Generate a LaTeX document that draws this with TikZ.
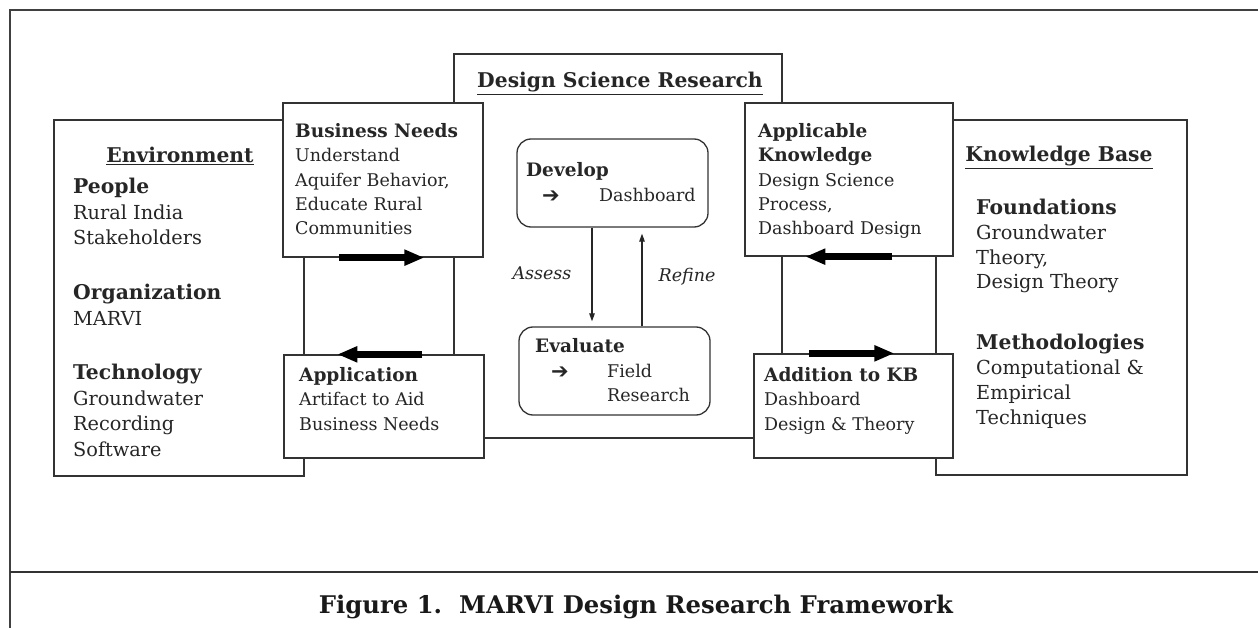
\documentclass[tikz,border=0pt]{standalone}
\usepackage{fontspec}
\setmainfont{DejaVu Serif}
\newfontfamily\symfont{DejaVu Sans}
\usetikzlibrary{arrows.meta,calc}

% headings inside the boxes and the two side areas
\newcommand{\boxhead}[1]{{\bfseries\fontsize{18.5}{22}\selectfont #1}}
\newcommand{\sidehead}[1]{{\bfseries\fontsize{20.3}{24}\selectfont #1}}
\newcommand{\flowarrow}{{\symfont\bfseries\fontsize{21}{24}\selectfont ➔}}

\begin{document}
\begin{tikzpicture}[x=1pt,y=-1pt,
  box/.style={draw=black!80, line width=1.3pt, fill=white, inner sep=0pt},
  roundbox/.style={box, rounded corners=14pt},
  txt/.style={align=left, inner sep=0pt, anchor=north west, text=black!85,
    font=\fontsize{17.5}{24.4}\selectfont},
  sidetxt/.style={txt, font=\fontsize{19.3}{25.6}\selectfont},
  oneline/.style={inner sep=0pt, anchor=base west, text=black!85,
    font=\fontsize{17.5}{21}\selectfont},
  title/.style={inner sep=0pt, anchor=base, text=black!85,
    font=\bfseries\fontsize{20.3}{24}\selectfont},
  label/.style={inner sep=0pt, text=black!85,
    font=\itshape\fontsize{17.5}{21}\selectfont},
  bigarrow/.style={line width=7pt, -{Triangle[length=20pt,width=15pt]}, black},
  thinarrow/.style={line width=1.1pt, -{Triangle[length=8pt,width=5.5pt]}, black!85}
]
\useasboundingbox (0,0) rectangle (1258,628);

% outer frame and caption rule
\draw[draw=black!75, line width=2pt] (1258,10) -- (10,10) -- (10,628);
\draw[draw=black!80, line width=1.6pt] (10,572) -- (1258,572);

% the three large areas
\node[box, minimum width=250pt, minimum height=356pt] (env) at (179,298) {};
\node[box, minimum width=251pt, minimum height=355pt] (kb) at (1061.5,297.5) {};
\node[box, minimum width=328pt, minimum height=384pt] (dsr) at (618,246) {};

% boxes on the borders
\node[box, minimum width=200pt, minimum height=154pt] (bn) at (383,180) {};
\node[box, minimum width=200pt, minimum height=103pt] (app) at (384,406.5) {};
\node[box, minimum width=208pt, minimum height=153pt] (ak) at (849,179.5) {};
\node[box, minimum width=199pt, minimum height=104pt] (add) at (853.5,406) {};

% develop / evaluate loop
\node[roundbox, minimum width=191pt, minimum height=88pt] (dev) at (612.5,183) {};
\node[roundbox, minimum width=191pt, minimum height=88pt] (eva) at (614.5,371) {};

\coordinate (assessx) at (592,0);
\coordinate (refinex) at (642,0);
\draw[thinarrow, shorten >=5pt] (dev.south -| assessx) -- (eva.north -| assessx);
\draw[thinarrow, shorten >=6pt] (eva.north -| refinex) -- (dev.south -| refinex);
\node[label] (assess) at (542,273) {Assess};
\node[label] (refine) at (687,277) {Refine};

% thick flow arrows along the box edges
\draw[bigarrow] ($(bn.south west)+(57,0)$) -- ($(bn.south west)+(142,0)$);
\draw[bigarrow] ($(app.north west)+(139,0)$) -- ($(app.north west)+(54,0)$);
\draw[bigarrow] ($(ak.south west)+(148,0)$) -- ($(ak.south west)+(61,0)$);
\draw[bigarrow] ($(add.north west)+(56,0)$) -- ($(add.north west)+(141,0)$);

% titles
\node[title] (dsrtitle) at (620,88) {\underline{Design Science Research}};
\node[title] (envtitle) at (180,163) {\underline{Environment}};
\node[title] (kbtitle) at (1059,162) {\underline{Knowledge Base}};

% environment
\node[sidetxt] (people) at (73,178) {\sidehead{People}\\Rural India\\Stakeholders};
\node[sidetxt] (org) at (73,284) {\sidehead{Organization}\\MARVI};
\node[sidetxt] (tech) at (73,364) {\sidehead{Technology}\\Groundwater\\Recording\\Software};

% design science boxes
\node[txt] (bntxt) at (295,123) {\boxhead{Business Needs}\\Understand\\Aquifer Behavior,\\Educate Rural\\Communities};
\node[txt] (apptxt) at (299,367) {\boxhead{Application}\\Artifact to Aid\\Business Needs};
\node[txt] (aktxt) at (758,123) {\boxhead{Applicable}\\\boxhead{Knowledge}\\Design Science\\Process,\\Dashboard Design};
\node[txt] (addtxt) at (764,367) {\boxhead{Addition to KB}\\Dashboard\\Design \& Theory};

\node[oneline] (devtxt) at (526,177) {\boxhead{Develop}};
\node[oneline] (devarrow) at (542,203) {\flowarrow};
\node[oneline] (devobj) at (599,202) {Dashboard};
\node[oneline] (evatxt) at (535,352) {\boxhead{Evaluate}};
\node[oneline] (evaarrow) at (551,378) {\flowarrow};
\node[txt] (evaobj) at (607,364) {Field\\Research};

% knowledge base
\node[sidetxt, font=\fontsize{19.3}{24.7}\selectfont] (found) at (976,199)
  {\sidehead{Foundations}\\Groundwater\\Theory,\\Design Theory};
\node[sidetxt, font=\fontsize{19.3}{25}\selectfont] (meth) at (976,334)
  {\sidehead{Methodologies}\\Computational \&\\Empirical\\Techniques};

% caption
\node[inner sep=0pt, anchor=base, text=black!90,
  font=\bfseries\fontsize{24.3}{28}\selectfont] (caption) at (636,613)
  {Figure 1.\ \ MARVI Design Research Framework};
\end{tikzpicture}
\end{document}
